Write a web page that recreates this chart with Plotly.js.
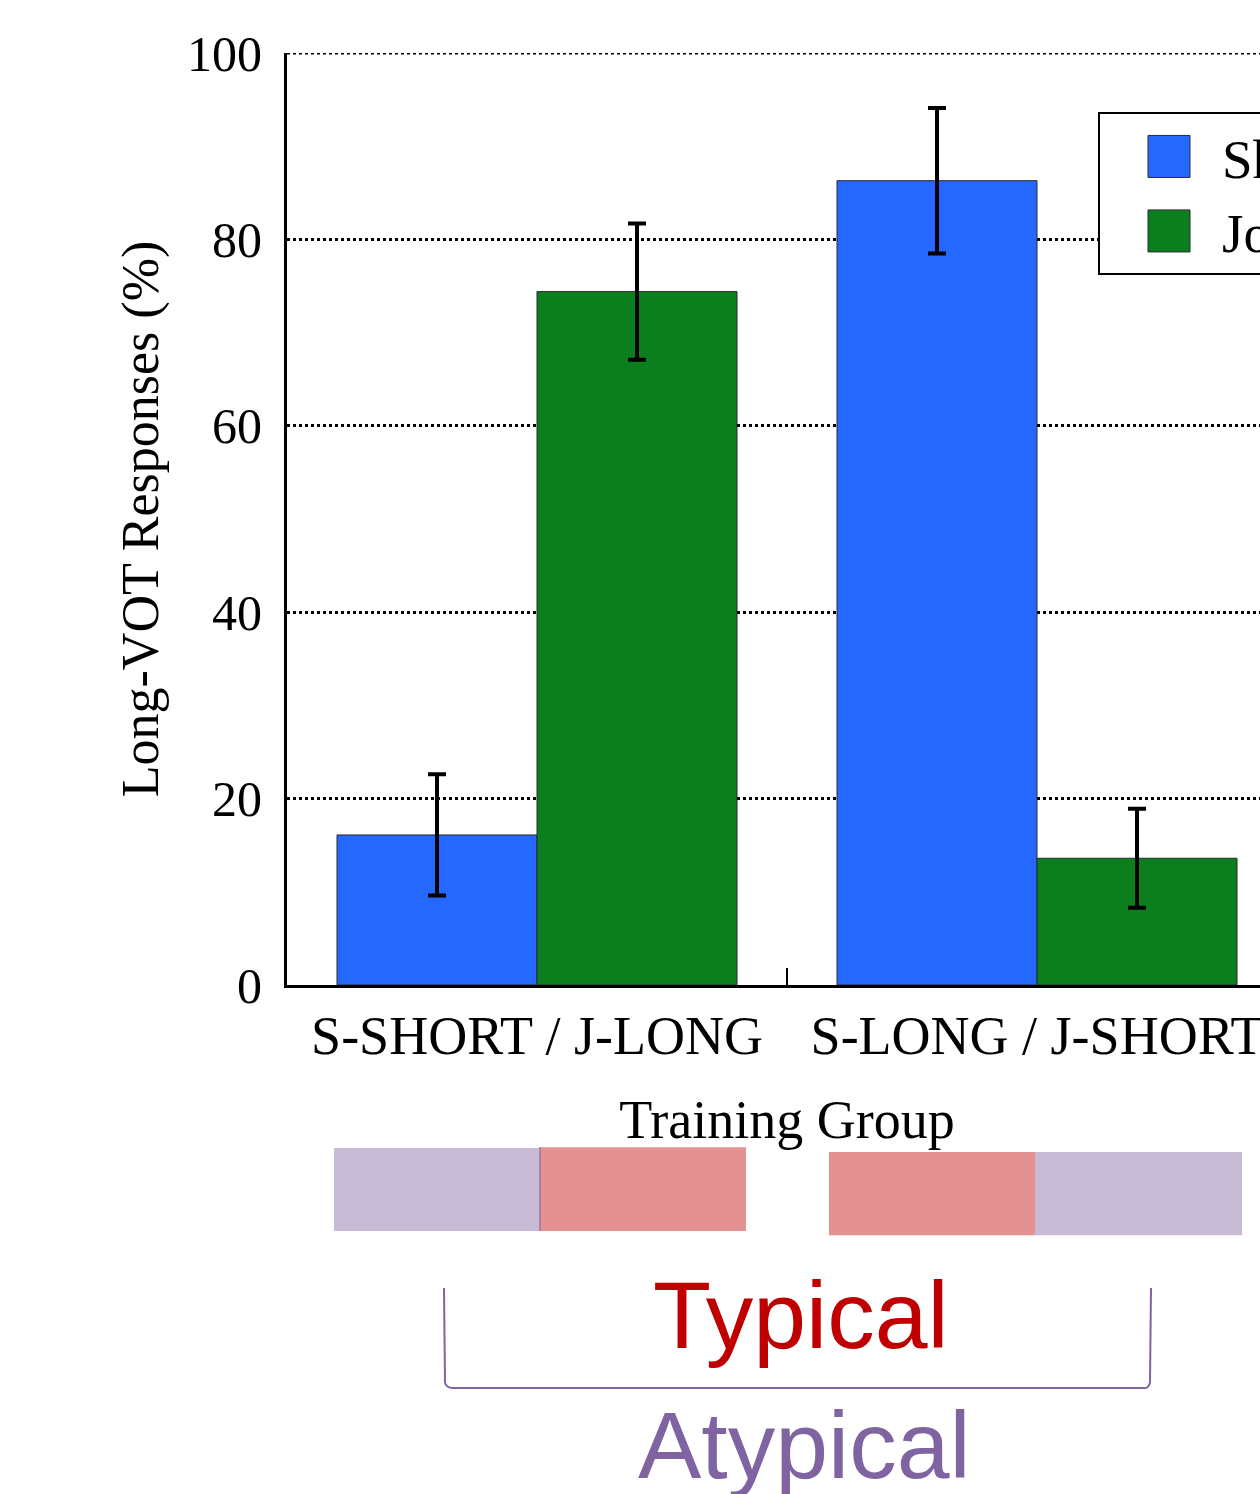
<!DOCTYPE html>
<html>
<head>
<meta charset="utf-8">
<script src="https://cdn.plot.ly/plotly-3.0.1.min.js"></script>
<style>
html,body{margin:0;padding:0;overflow:hidden;background:#fff;width:1260px;height:1494px;}
#chart{width:1500px;height:1494px;}
</style>
</head>
<body>
<div id="chart"></div>
<script>
// ---- data ----
var categories = ["S-SHORT / J-LONG", "S-LONG / J-SHORT"];
var seriesNames = ["Sheila", "Joanne"];
var sValues = [16.1, 86.3];
var sErrors = [6.5, 7.8];
var jValues = [74.4, 13.6];
var jErrors = [7.3, 5.3];
var yTicks = [0, 20, 40, 60, 80, 100];
var xTitle = "Training Group";
var yTitle = "Long-VOT Responses (%)";
var typicalLabel = "Typical";
var atypicalLabel = "Atypical";

var serif = "'Times New Roman', 'Liberation Serif', serif";
var sans = "Arial, 'Liberation Sans', sans-serif";
var blue = "#2468ff";
var green = "#0b7f1e";
var lav = "#c8bbd6";
var salmon = "#e39191";
var purple = "#8064a2";
var red = "#c00000";

var traces = [
  {type: "bar", name: seriesNames[0], x: categories, y: sValues,
   marker: {color: blue, line: {color: "#2a2a2a", width: 1}},
   error_y: {type: "data", array: sErrors, visible: true, color: "#000", thickness: 4, width: 9}},
  {type: "bar", name: seriesNames[1], x: categories, y: jValues,
   marker: {color: green, line: {color: "#2a2a2a", width: 1}},
   error_y: {type: "data", array: jErrors, visible: true, color: "#000", thickness: 4, width: 9}}
];

var shapes = [
  // top gridline (at the upper edge of the plot)
  {type: "line", xref: "paper", yref: "y", x0: 0, x1: 1, y0: 100, y1: 100, layer: "below",
   line: {color: "#000", width: 3, dash: "dot"}},
  // decorative rectangles under the axis
  {type: "rect", xref: "x", yref: "paper", x0: -0.406, x1: 0.006, y0: -0.264, y1: -0.175, fillcolor: lav, line: {width: 0}, layer: "above"},
  {type: "rect", xref: "x", yref: "paper", x0: 0.006, x1: 0.418, y0: -0.264, y1: -0.174, fillcolor: salmon, line: {width: 0}, layer: "above"},
  {type: "line", xref: "x", yref: "paper", x0: 0.006, x1: 0.006, y0: -0.264, y1: -0.174, line: {color: "#b07fa0", width: 2}},
  {type: "rect", xref: "x", yref: "paper", x0: 0.584, x1: 0.996, y0: -0.2685, y1: -0.1792, fillcolor: salmon, line: {width: 0}, layer: "above"},
  {type: "rect", xref: "x", yref: "paper", x0: 0.996, x1: 1.41, y0: -0.2685, y1: -0.1792, fillcolor: lav, line: {width: 0}, layer: "above"},
  // bracket
  {type: "path", xref: "paper", yref: "paper",
   path: "M 0.157 -0.3251 L 0.158 -0.4264 Q 0.159 -0.4324 0.166 -0.4324 L 0.858 -0.4324 Q 0.862 -0.4324 0.863 -0.4264 L 0.864 -0.3251",
   line: {color: purple, width: 2}}
];

var annotations = [
  {text: typicalLabel, xref: "paper", yref: "paper", x: 0.514, y: -0.4136, xanchor: "center", yanchor: "bottom",
   showarrow: false, font: {family: sans, size: 95, color: red}},
  {text: atypicalLabel, xref: "paper", yref: "paper", x: 0.517, y: -0.5523, xanchor: "center", yanchor: "bottom",
   showarrow: false, font: {family: sans, size: 95, color: purple}}
];

var layout = {
  width: 1500, height: 1494,
  margin: {l: 287, r: 213, t: 53, b: 509},
  paper_bgcolor: "#fff", plot_bgcolor: "#fff",
  barmode: "group", bargap: 0.2, bargroupgap: 0,
  font: {family: serif, color: "#000"},
  showlegend: true,
  legend: {x: 0.811, y: 0.9365, xanchor: "left", yanchor: "top", bgcolor: "#fff",
           bordercolor: "#000", borderwidth: 2, font: {family: serif, size: 55, color: "#000"},
           itemwidth: 112, traceorder: "normal"},
  xaxis: {type: "category", range: [-0.5, 1.5], showline: true, linecolor: "#000", linewidth: 3,
          ticks: "inside", tickson: "boundaries", ticklen: 17, tickwidth: 2, tickcolor: "#000",
          showgrid: false, zeroline: false, ticklabelstandoff: 1,
          tickfont: {family: serif, size: 54, color: "#000"},
          title: {text: xTitle, font: {family: serif, size: 54, color: "#000"}, standoff: 36}},
  yaxis: {range: [0, 100], tickvals: yTicks, ticktext: yTicks.map(String), showline: true, linecolor: "#000", linewidth: 3,
          ticks: "", showgrid: true, gridcolor: "#000", gridwidth: 3, griddash: "dot", zeroline: false,
          ticklabelstandoff: 12,
          tickfont: {family: serif, size: 50, color: "#000"},
          title: {text: yTitle, font: {family: serif, size: 52, color: "#000"}, standoff: 12}},
  shapes: shapes,
  annotations: annotations
};

Plotly.newPlot("chart", traces, layout, {displayModeBar: false, staticPlot: true}).then(function () {
  var pts = document.querySelectorAll(".legend .legendpoints path");
  pts.forEach(function (p) { p.setAttribute("d", "M29,21H-13V-21H29Z"); });
});
</script>
</body>
</html>
